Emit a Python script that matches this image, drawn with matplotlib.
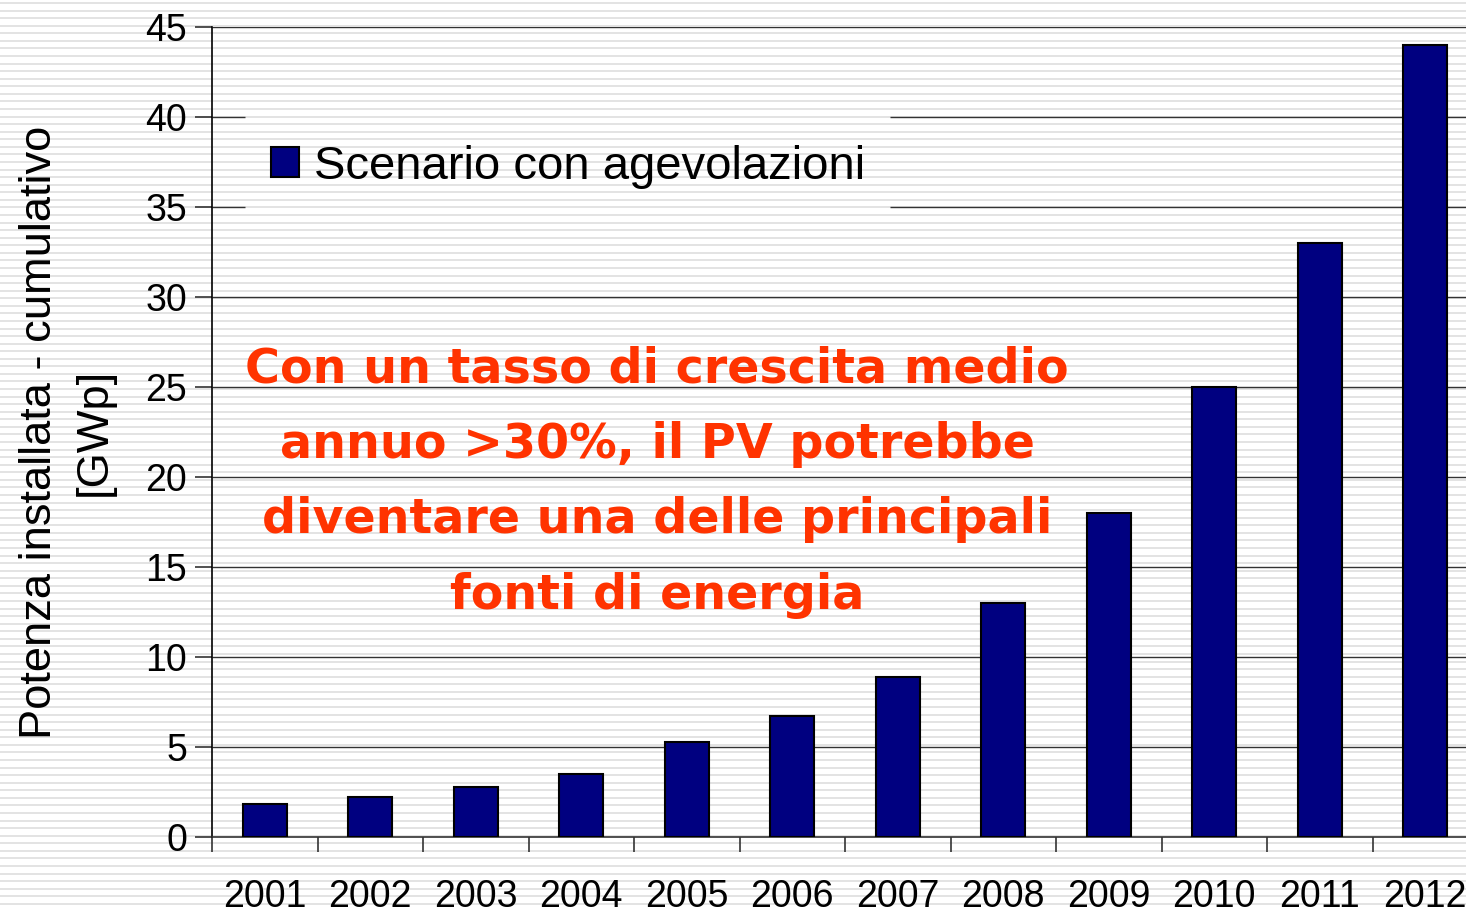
import matplotlib
matplotlib.use("Agg")
import matplotlib.pyplot as plt
from matplotlib.lines import Line2D
import numpy as np

years = ["2001", "2002", "2003", "2004", "2005", "2006",
         "2007", "2008", "2009", "2010", "2011", "2012"]
values = [1.85, 2.25, 2.8, 3.5, 5.3, 6.7, 8.9, 13.0, 18.0, 25.0, 33.0, 44.0]
yticks = [0, 5, 10, 15, 20, 25, 30, 35, 40, 45]
series_name = "Scenario con agevolazioni"
ylabel = "Potenza installata - cumulativo\n[GWp]"
message = ("Con un tasso di crescita medio\nannuo >30%, il PV potrebbe\n"
           "diventare una delle principali\nfonti di energia")

W, H = 1466, 908
fig = plt.figure(figsize=(W / 100, H / 100), dpi=100)
fig.patch.set_facecolor("white")

# striped slide background
period = 7.57
y = 3.0
while y < H:
    fig.add_artist(Line2D([0, 1], [1 - y / H, 1 - y / H], transform=fig.transFigure,
                          color="#dedede", lw=1.2, zorder=0))
    y += period

left_px, right_px, top_px, bot_px = 212, 1478, 27, 837
ax = fig.add_axes([left_px / W, 1 - bot_px / H, (right_px - left_px) / W, (bot_px - top_px) / H])
ax.patch.set_alpha(0)

x = np.arange(len(years))
bars = ax.bar(x, values, width=0.42, color="#000080", edgecolor="black", linewidth=1.5,
              label=series_name, zorder=3)

ax.set_xlim(-0.5, len(years) - 0.5)
ax.set_ylim(0, 45)

# gridlines (broken behind legend for 35 and 40)
def px2x(p):
    return (p - left_px) / ((right_px - left_px) / len(years)) - 0.5

for t in yticks[1:]:
    if t in (35, 40):
        ax.hlines(t, -0.5, px2x(245), color="#333333", lw=1, zorder=1)
        ax.hlines(t, px2x(890), len(years) - 0.5, color="#333333", lw=1, zorder=1)
    else:
        ax.hlines(t, -0.5, len(years) - 0.5, color="#333333", lw=1, zorder=1)

for s in ["top", "right"]:
    ax.spines[s].set_visible(False)
ax.spines["left"].set_color("black")
ax.spines["left"].set_linewidth(1.2)
ax.spines["bottom"].set_color("#333333")
ax.spines["bottom"].set_linewidth(1.2)

ax.set_yticks(yticks)
ax.set_yticklabels([str(t) for t in yticks], fontsize=27, family="Liberation Sans")
ax.tick_params(axis="y", direction="out", length=12, width=1.2, pad=6, color="#333333")

ax.set_xticks(np.arange(len(years) + 1) - 0.5)
ax.set_xticklabels([])
ax.set_xticks(x, minor=True)
ax.set_xticklabels(years, minor=True, fontsize=27, family="Liberation Sans")
ax.tick_params(axis="x", which="major", direction="out", length=11, width=1.2, color="#333333")
ax.tick_params(axis="x", which="minor", length=0, pad=30)

ax.set_ylabel(ylabel, fontsize=32.6, family="Liberation Sans", linespacing=1.42, labelpad=22)

leg = ax.legend(handles=[bars], labels=[series_name], loc="upper left",
                bbox_to_anchor=(271 / W, 1 - 145 / H), bbox_transform=fig.transFigure,
                frameon=False, handlelength=0.6, handleheight=0.6,
                handletextpad=0.32, borderpad=0, borderaxespad=0,
                prop={"family": "Liberation Sans", "size": 34})

fig.text(657 / W, 1 - 482 / H, message, ha="center", va="center", color="#FF3300",
         fontsize=34.3, fontweight="bold", family="DejaVu Sans", linespacing=1.77)

fig.savefig("out.png", dpi=100)
